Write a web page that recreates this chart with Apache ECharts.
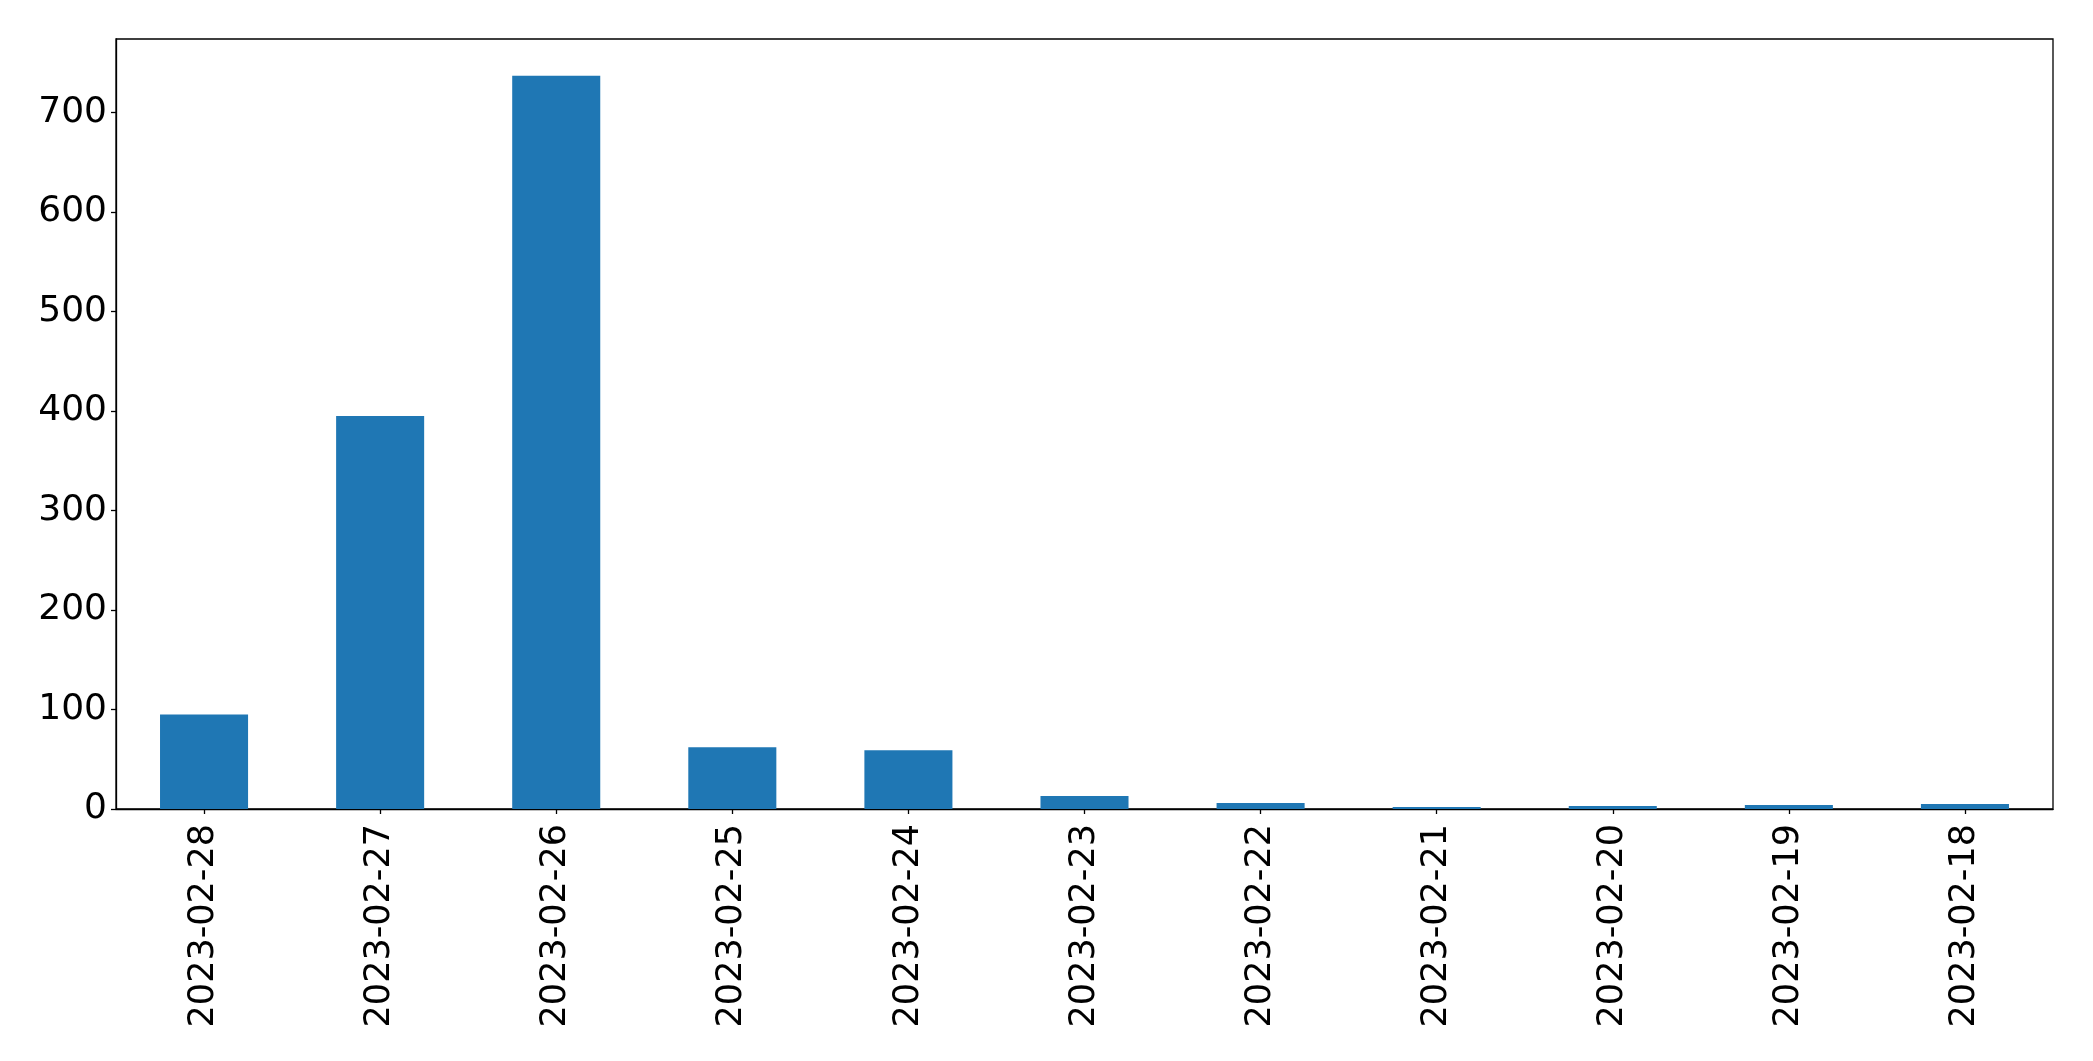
<!DOCTYPE html>
<html>
<head>
<meta charset="utf-8">
<script src="https://cdn.jsdelivr.net/npm/echarts@6/dist/echarts.min.js"></script>
<style>
html,body{margin:0;padding:0;background:#fff;}
#chart{width:2093px;height:1061px;}
</style>
</head>
<body>
<div id="chart"></div>
<script>
const categories = ['2023-02-28','2023-02-27','2023-02-26','2023-02-25','2023-02-24','2023-02-23','2023-02-22','2023-02-21','2023-02-20','2023-02-19','2023-02-18'];
const counts = [95, 395, 737, 62, 59, 13, 6, 2, 3, 4, 5];
const yTicks = [0, 100, 200, 300, 400, 500, 600, 700];

const chart = echarts.init(document.getElementById('chart'), null, {renderer: 'canvas'});
const font = 'DejaVu Sans';
chart.setOption({
  animation: false,
  backgroundColor: '#ffffff',
  grid: {
    left: 116, right: 40, top: 39, bottom: 252,
    show: true, borderColor: '#000', borderWidth: 1.3, backgroundColor: 'transparent'
  },
  xAxis: {
    type: 'category',
    data: categories,
    boundaryGap: true,
    axisLine: {show: true, lineStyle: {color: '#000', width: 1.3}},
    axisTick: {show: true, alignWithLabel: true, length: 5, lineStyle: {color: '#000', width: 1.3}},
    axisLabel: {rotate: 90, margin: 15, fontSize: 35, fontFamily: font, color: '#000', interval: 0},
    splitLine: {show: false}
  },
  yAxis: {
    type: 'value',
    min: 0,
    max: function (v) { return v.max * 1.05; },
    interval: 100,
    axisLine: {show: true, lineStyle: {color: '#000', width: 1.3}},
    axisTick: {show: true, length: 5, lineStyle: {color: '#000', width: 1.3}, customValues: yTicks},
    axisLabel: {margin: 9, fontSize: 36, fontFamily: font, color: '#000', customValues: yTicks},
    splitLine: {show: false}
  },
  series: [{
    type: 'bar',
    data: counts,
    barWidth: '50%',
    itemStyle: {color: '#1f77b4'}
  }]
});
</script>
</body>
</html>
